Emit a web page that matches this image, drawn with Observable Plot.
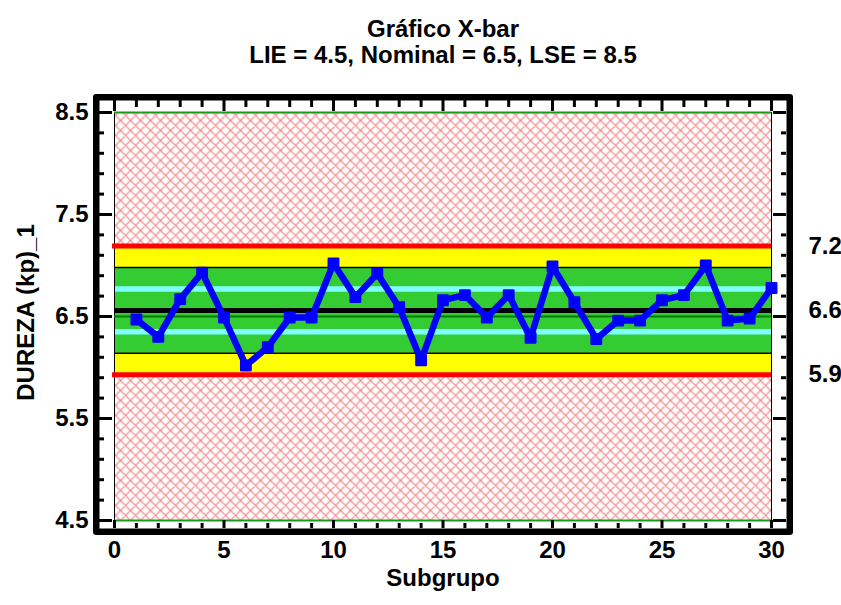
<!DOCTYPE html>
<html>
<head>
<meta charset="utf-8">
<script src="https://cdn.jsdelivr.net/npm/d3@7"></script>
<script src="https://cdn.jsdelivr.net/npm/@observablehq/plot@0.6"></script>
<style>
  html, body { margin: 0; padding: 0; background: #fff; overflow: hidden; }
</style>
</head>
<body>
<div id="chart"></div>
<script>
// Subgroup means (X-bar) for DUREZA (kp)_1
const subgroups = [1, 2, 3, 4, 5, 6, 7, 8, 9, 10, 11, 12, 13, 14, 15,
                   16, 17, 18, 19, 20, 21, 22, 23, 24, 25, 26, 27, 28, 29, 30];
const means = [6.47, 6.30, 6.67, 6.93, 6.49, 6.02, 6.20, 6.49, 6.49, 7.02,
               6.69, 6.92, 6.59, 6.07, 6.66, 6.71, 6.49, 6.71, 6.29, 6.99,
               6.64, 6.28, 6.46, 6.46, 6.66, 6.71, 7.00, 6.46, 6.48, 6.78];

// Control limits: LCL, centre line, UCL
const limitNames = ["LCL", "CL", "UCL"];
const limitValues = [5.93, 6.56, 7.19];

// Specification limits: LIE, Nominal, LSE
const specNames = ["LIE", "Nominal", "LSE"];
const specValues = [4.5, 6.5, 8.5];

// Axis ticks
const xTicks = [0, 5, 10, 15, 20, 25, 30];
const yTicks = [4.5, 5.5, 6.5, 7.5, 8.5];
const xMinor = d3.range(0, 31, 1).filter(v => !xTicks.includes(v));
const yMinor = d3.range(0, 21).map(i => +(4.5 + i * 0.2).toFixed(1)).filter(v => !yTicks.includes(v));

const points = subgroups.map((s, i) => ({subgrupo: s, media: means[i]}));

// Zones derived from the control limits (sigma bands)
const [lcl, cl, ucl] = limitValues;
const sigma = (ucl - cl) / 3;
const oneSigma = [cl - sigma, cl + sigma];
const twoSigma = [cl - 2 * sigma, cl + 2 * sigma];

// Layout
const W = 841, H = 605;
const mT = 112, mB = 85, mL = 114, mR = 70;
const plotW = W - mL - mR, plotH = H - mT - mB;
// gap between the plot area and the heavy outer frame (inner edge)
const gapL = 15, gapR = 15, gapT = 12, gapB = 8;
const frameW = 6.5;
const minorLen = 5;

const FONT = "'Liberation Sans', Arial, Helvetica, sans-serif";

const notchStyle = {stroke: "black", strokeWidth: 3};

const chart = Plot.plot({
  width: W,
  height: H,
  marginTop: mT,
  marginBottom: mB,
  marginLeft: mL,
  marginRight: mR,
  style: {fontFamily: FONT, fontSize: "24px", fontWeight: "bold", color: "black", background: "white"},
  x: {domain: [0, 30]},
  y: {domain: [4.5, 8.5]},
  marks: [
    // cross-hatched background (out of control region)
    Plot.frame({fill: "url(#hatch)"}),
    // yellow band between the control limits, green band within 2 sigma
    Plot.rect([{y1: lcl, y2: ucl}], {y1: "y1", y2: "y2", fill: "#ffff00"}),
    Plot.rect([{y1: twoSigma[0], y2: twoSigma[1]}], {y1: "y1", y2: "y2", fill: "#33cc33"}),
    Plot.ruleY(twoSigma, {stroke: "black", strokeWidth: 1.5}),
    Plot.ruleY(oneSigma, {stroke: "#80ffff", strokeWidth: 5.5}),
    // thin plot border
    Plot.frame({stroke: "black", strokeWidth: 1}),
    // specification limits (top & bottom) and nominal
    Plot.ruleY([specValues[0], specValues[2]], {stroke: "#1a9a1a", strokeWidth: 2}),
    Plot.ruleY([specValues[1]], {stroke: "#007a00", strokeWidth: 2}),
    // centre line and control limits
    Plot.ruleY([cl], {stroke: "black", strokeWidth: 5}),
    Plot.ruleY([lcl, ucl], {stroke: "#ff0000", strokeWidth: 5, insetLeft: -2}),
    // subgroup means
    Plot.line(points, {x: "subgrupo", y: "media", stroke: "#0000ff", strokeWidth: 6.5, strokeLinejoin: "round"}),
    Plot.dot(points, {x: "subgrupo", y: "media", symbol: "square", r: 5.3, fill: "#0000ff", stroke: "#0000ff", strokeWidth: 2.5, strokeLinejoin: "round"}),
    // right-hand labels for the control limits
    Plot.text(limitValues, {y: d => d, text: d => d3.format(".1f")(d), frameAnchor: "right", dx: 37, textAnchor: "start"}),
    // heavy outer frame
    Plot.frame({stroke: "black", strokeWidth: frameW, strokeLinejoin: "round",
      insetLeft: -(gapL + frameW / 2), insetRight: -(gapR + frameW / 2),
      insetTop: -(gapT + frameW / 2), insetBottom: -(gapB + frameW / 2)}),
    // inward notches on the outer frame: bottom, top, left, right
    Plot.ruleX(xMinor, {x: d => d, insetBottom: -gapB, insetTop: plotH + gapB - minorLen, ...notchStyle}),
    Plot.ruleX(xTicks, {x: d => d, insetBottom: -gapB, insetTop: plotH, ...notchStyle}),
    Plot.ruleX(xMinor, {x: d => d, insetTop: -gapT, insetBottom: plotH + gapT - minorLen - 2, ...notchStyle}),
    Plot.ruleX(xTicks, {x: d => d, insetTop: -gapT, insetBottom: plotH + 1, ...notchStyle}),
    Plot.ruleY(yMinor, {y: d => d, insetLeft: -gapL, insetRight: plotW + gapL - minorLen, ...notchStyle}),
    Plot.ruleY(yTicks, {y: d => d, insetLeft: -gapL, insetRight: plotW + 2, ...notchStyle}),
    Plot.ruleY(yMinor, {y: d => d, insetRight: -gapR, insetLeft: plotW + gapR - minorLen, ...notchStyle}),
    Plot.ruleY(yTicks, {y: d => d, insetRight: -gapR, insetLeft: plotW + 2, ...notchStyle}),
    // axes
    Plot.axisX({ticks: xTicks, tickSize: 0, tickPadding: 20, label: null, tickFormat: d3.format("d")}),
    Plot.axisY({ticks: yTicks, tickSize: 0, tickPadding: 26, label: null, tickFormat: d3.format(".1f")}),
    // axis titles
    Plot.text(["Subgrupo"], {frameAnchor: "bottom", dy: 65, text: d => d}),
    Plot.text(["DUREZA (kp)_1"], {frameAnchor: "left", textAnchor: "middle", rotate: -90, dx: -88, dy: -4, text: d => d}),
    // chart title
    Plot.text(["Gráfico X-bar"], {frameAnchor: "top", dy: -93, text: d => d}),
    Plot.text([`${specNames[0]} = ${specValues[0]}, ${specNames[1]} = ${specValues[1]}, ${specNames[2]} = ${specValues[2]}`],
      {frameAnchor: "top", dy: -67, text: d => d})
  ]
});

// Cross-hatch pattern used by the background
const svg = d3.select(chart);
const pattern = svg.insert("defs", ":first-child")
  .append("pattern")
  .attr("id", "hatch")
  .attr("patternUnits", "userSpaceOnUse")
  .attr("width", 10)
  .attr("height", 10);
pattern.append("rect").attr("width", 10).attr("height", 10).attr("fill", "white");
pattern.append("path")
  .attr("d", "M0,0L10,10M10,0L0,10M-1,9L1,11M9,-1L11,1M9,11L11,9M-1,1L1,-1")
  .attr("stroke", "#f07a7a")
  .attr("stroke-width", 1.1);

document.getElementById("chart").appendChild(chart);
</script>
</body>
</html>
